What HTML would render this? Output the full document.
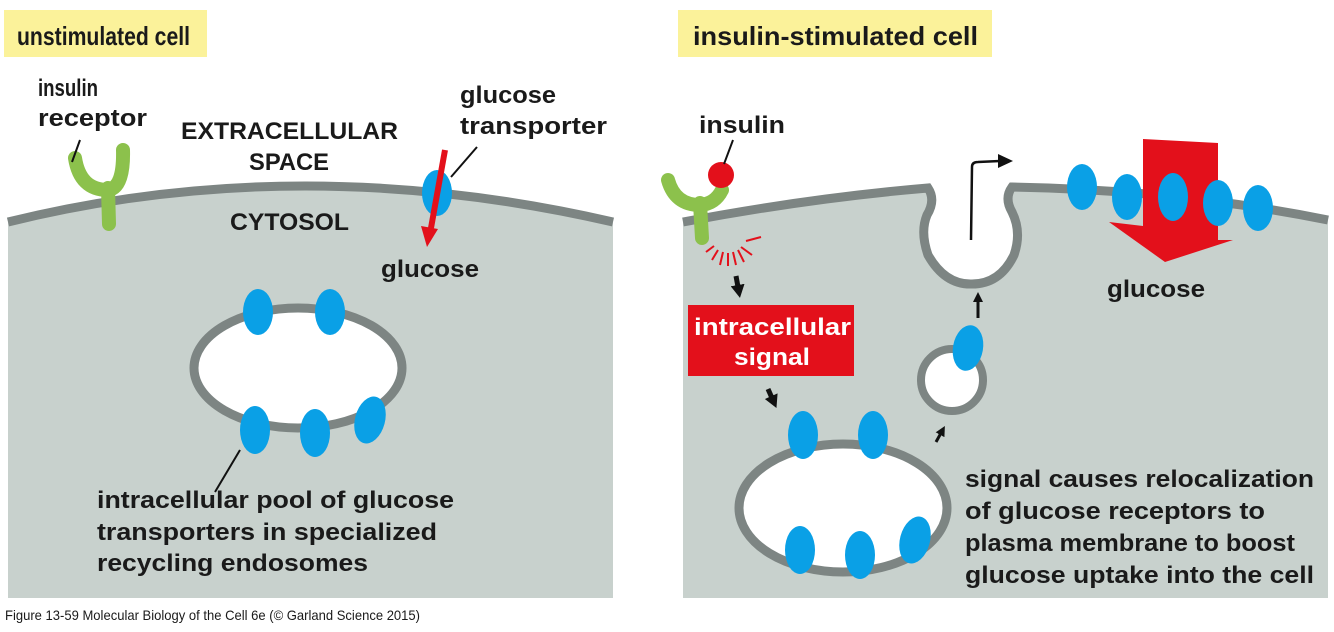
<!DOCTYPE html>
<html><head><meta charset="utf-8"><style>
html,body{margin:0;padding:0;background:#fff;}
svg{display:block;}
text{font-family:"Liberation Sans",sans-serif;font-weight:bold;fill:#1a1a1a;}
</style></head><body>
<svg width="1334" height="632" viewBox="0 0 1334 632" xmlns="http://www.w3.org/2000/svg">
<defs>
<marker id="ah" markerWidth="14" markerHeight="14" refX="2" refY="7" orient="auto" markerUnits="userSpaceOnUse"><path d="M0,0 L13,7 L0,14 Z" fill="#111"/></marker>
<marker id="as" markerWidth="10" markerHeight="10" refX="2" refY="5" orient="auto" markerUnits="userSpaceOnUse"><path d="M0,0 L10,5 L0,10 Z" fill="#111"/></marker>
</defs>
<rect x="4" y="10" width="203" height="47" fill="#fbf29a"/>
<text x="17" y="45" font-size="26" textLength="173" lengthAdjust="spacingAndGlyphs">unstimulated cell</text>
<rect x="678" y="10" width="314" height="47" fill="#fbf29a"/>
<text x="693" y="45" font-size="26" textLength="285" lengthAdjust="spacingAndGlyphs">insulin-stimulated cell</text>

<path d="M8,222 Q300,150 613,222 L613,598 L8,598 Z" fill="#c8d1cd"/>
<path d="M8,222 Q300,150 613,222" fill="none" stroke="#7d8583" stroke-width="9"/>
<path d="M75,158 Q80,190 108,190 Q124,188 123,150" fill="none" stroke="#8cc14c" stroke-width="14" stroke-linecap="round"/>
<line x1="108" y1="188" x2="109" y2="224" stroke="#8cc14c" stroke-width="14" stroke-linecap="round"/>
<line x1="80" y1="140" x2="72" y2="162" stroke="#111" stroke-width="2"/>
<ellipse cx="437" cy="193" rx="15" ry="23" fill="#0aa0e6"/>
<line x1="445" y1="150" x2="431" y2="228" stroke="#e3101b" stroke-width="6"/>
<path d="M421,226 L438,229 L427,247 Z" fill="#e3101b"/>
<line x1="477" y1="147" x2="451" y2="177" stroke="#111" stroke-width="2"/>
<ellipse cx="298" cy="368" rx="104" ry="60" fill="#fff" stroke="#7d8583" stroke-width="9"/>
<ellipse cx="258" cy="312" rx="15" ry="23" fill="#0aa0e6"/>
<ellipse cx="330" cy="312" rx="15" ry="23" fill="#0aa0e6"/>
<ellipse cx="255" cy="430" rx="15" ry="24" fill="#0aa0e6"/>
<ellipse cx="315" cy="433" rx="15" ry="24" fill="#0aa0e6"/>
<ellipse cx="370" cy="420" rx="15" ry="24" transform="rotate(15 370 420)" fill="#0aa0e6"/>
<line x1="240" y1="450" x2="215" y2="492" stroke="#111" stroke-width="2"/>

<text x="38" y="96" font-size="24" textLength="60" lengthAdjust="spacingAndGlyphs">insulin</text>
<text x="38" y="126" font-size="24" textLength="109" lengthAdjust="spacingAndGlyphs">receptor</text>
<text x="181" y="139" font-size="24" textLength="217" lengthAdjust="spacingAndGlyphs">EXTRACELLULAR</text>
<text x="249" y="170" font-size="24" textLength="80" lengthAdjust="spacingAndGlyphs">SPACE</text>
<text x="230" y="230" font-size="24" textLength="119" lengthAdjust="spacingAndGlyphs">CYTOSOL</text>
<text x="460" y="103" font-size="24" textLength="96" lengthAdjust="spacingAndGlyphs">glucose</text>
<text x="460" y="134" font-size="24" textLength="147" lengthAdjust="spacingAndGlyphs">transporter</text>
<text x="381" y="277" font-size="24" textLength="98" lengthAdjust="spacingAndGlyphs">glucose</text>
<text x="97" y="508" font-size="24" textLength="357" lengthAdjust="spacingAndGlyphs">intracellular pool of glucose</text>
<text x="97" y="540" font-size="24" textLength="340" lengthAdjust="spacingAndGlyphs">transporters in specialized</text>
<text x="97" y="571" font-size="24" textLength="271" lengthAdjust="spacingAndGlyphs">recycling endosomes</text>

<path d="M683,222 Q810,198 928,188 Q936,200 927,215 Q920,232 928,255 Q945,285 972,284 Q1000,284 1014,255 Q1022,232 1012,212 Q1004,198 1012,187 Q1180,190 1328,220 L1328,598 L683,598 Z" fill="#c8d1cd"/>
<path d="M683,222 Q810,198 928,188 Q936,200 927,215 Q920,232 928,255 Q945,285 972,284 Q1000,284 1014,255 Q1022,232 1012,212 Q1004,198 1012,187 Q1180,190 1328,220" fill="none" stroke="#7d8583" stroke-width="9"/>
<path d="M668,180 Q675,205 700,205 Q715,204 722,190" fill="none" stroke="#8cc14c" stroke-width="14" stroke-linecap="round"/>
<line x1="700" y1="203" x2="702" y2="238" stroke="#8cc14c" stroke-width="14" stroke-linecap="round"/>
<circle cx="721" cy="175" r="13" fill="#e3101b"/>
<line x1="733" y1="140" x2="724" y2="164" stroke="#111" stroke-width="2"/>
<g stroke="#e3101b" stroke-width="2">
<line x1="706" y1="252" x2="714" y2="246"/><line x1="712" y1="260" x2="718" y2="250"/>
<line x1="720" y1="265" x2="723" y2="252"/><line x1="728" y1="266" x2="728" y2="253"/>
<line x1="736" y1="265" x2="733" y2="252"/><line x1="744" y1="262" x2="738" y2="250"/>
<line x1="752" y1="255" x2="741" y2="247"/><line x1="761" y1="237" x2="746" y2="241"/>
</g>
<line x1="736" y1="276" x2="738" y2="287" stroke="#111" stroke-width="5" marker-end="url(#ah)"/>
<rect x="688" y="305" width="166" height="71" fill="#e3101b"/>
<text x="694" y="335" font-size="24" textLength="157" lengthAdjust="spacingAndGlyphs" style="fill:#fff">intracellular</text>
<text x="734" y="365" font-size="24" textLength="76" lengthAdjust="spacingAndGlyphs" style="fill:#fff">signal</text>
<line x1="768" y1="389" x2="772" y2="398" stroke="#111" stroke-width="5" marker-end="url(#ah)"/>
<path d="M971,240 L972,167 Q972,162 978,162 L1000,161" fill="none" stroke="#111" stroke-width="2.5"/>
<path d="M998,154 L1013,161 L998,168 Z" fill="#111"/>
<path d="M1143,139 L1218,143 L1218,240 L1233,240 L1165,262 L1109,222 L1143,226 Z" fill="#e3101b"/>
<ellipse cx="1082" cy="187" rx="15" ry="23" fill="#0aa0e6"/>
<ellipse cx="1127" cy="197" rx="15" ry="23" fill="#0aa0e6"/>
<ellipse cx="1173" cy="197" rx="15" ry="24" fill="#0aa0e6"/>
<ellipse cx="1218" cy="203" rx="15" ry="23" fill="#0aa0e6"/>
<ellipse cx="1258" cy="208" rx="15" ry="23" fill="#0aa0e6"/>
<text x="1107" y="297" font-size="24" textLength="98" lengthAdjust="spacingAndGlyphs">glucose</text>
<line x1="978" y1="318" x2="978" y2="300" stroke="#111" stroke-width="3" marker-end="url(#as)"/>
<circle cx="952" cy="380" r="31" fill="#fff" stroke="#7d8583" stroke-width="8"/>
<ellipse cx="968" cy="348" rx="15" ry="23" transform="rotate(10 968 348)" fill="#0aa0e6"/>
<line x1="936" y1="442" x2="941" y2="433" stroke="#111" stroke-width="3" marker-end="url(#as)"/>
<ellipse cx="843" cy="508" rx="104" ry="64" fill="#fff" stroke="#7d8583" stroke-width="9"/>
<ellipse cx="803" cy="435" rx="15" ry="24" fill="#0aa0e6"/>
<ellipse cx="873" cy="435" rx="15" ry="24" fill="#0aa0e6"/>
<ellipse cx="800" cy="550" rx="15" ry="24" fill="#0aa0e6"/>
<ellipse cx="860" cy="555" rx="15" ry="24" fill="#0aa0e6"/>
<ellipse cx="915" cy="540" rx="15" ry="24" transform="rotate(15 915 540)" fill="#0aa0e6"/>
<text x="965" y="487" font-size="24" textLength="349" lengthAdjust="spacingAndGlyphs">signal causes relocalization</text>
<text x="965" y="519" font-size="24" textLength="300" lengthAdjust="spacingAndGlyphs">of glucose receptors to</text>
<text x="965" y="551" font-size="24" textLength="330" lengthAdjust="spacingAndGlyphs">plasma membrane to boost</text>
<text x="965" y="583" font-size="24" textLength="349" lengthAdjust="spacingAndGlyphs">glucose uptake into the cell</text>
<text x="699" y="133" font-size="24" textLength="86" lengthAdjust="spacingAndGlyphs">insulin</text>

<text x="5" y="620" font-size="14" style="font-weight:normal" textLength="415" lengthAdjust="spacingAndGlyphs">Figure 13-59  Molecular Biology of the Cell 6e (© Garland Science 2015)</text>
</svg>
</body></html>
